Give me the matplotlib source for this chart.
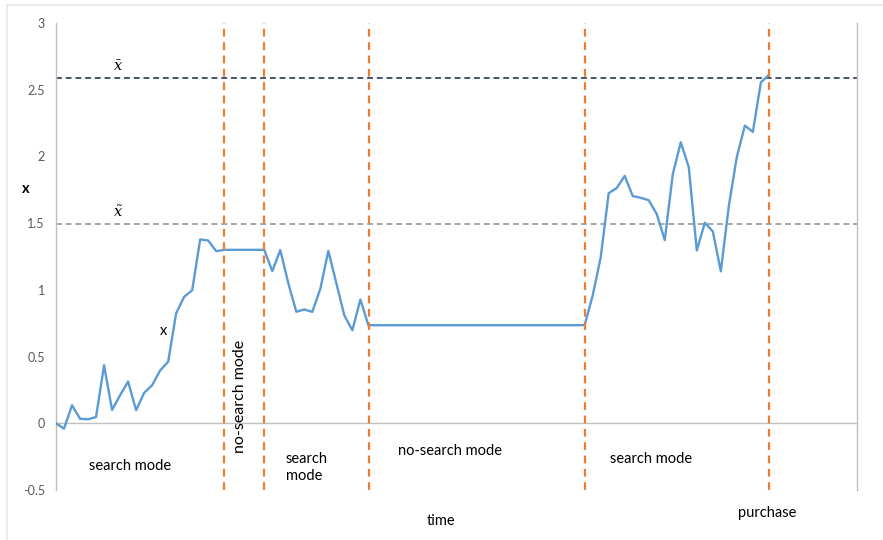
import numpy as np
import matplotlib
matplotlib.use("Agg")
import matplotlib.pyplot as plt
from matplotlib.lines import Line2D

plt.rcParams['font.family'] = ['Lato', 'DejaVu Sans']
plt.rcParams['mathtext.fontset'] = 'dejavuserif'

# x(t) path, one value per time step
x_values = [0.0, -0.04, 0.135, 0.034, 0.03, 0.047, 0.435, 0.10, 0.21, 0.313,
            0.098, 0.228, 0.285, 0.396, 0.461, 0.824, 0.948, 0.997, 1.378, 1.370,
            1.29, 1.30, 1.30, 1.30, 1.30, 1.30, 1.30, 1.14, 1.298, 1.05,
            0.836, 0.853, 0.835, 1.008, 1.292, 1.05, 0.808, 0.697, 0.928, 0.735,
            0.735, 0.735, 0.735, 0.735, 0.735, 0.735, 0.735, 0.735, 0.735, 0.735,
            0.735, 0.735, 0.735, 0.735, 0.735, 0.735, 0.735, 0.735, 0.735, 0.735,
            0.735, 0.735, 0.735, 0.735, 0.735, 0.735, 0.736, 0.957, 1.243, 1.724,
            1.763, 1.854, 1.703, 1.69, 1.672, 1.568, 1.373, 1.867, 2.106, 1.919,
            1.295, 1.503, 1.438, 1.139, 1.63, 1.997, 2.231, 2.184, 2.555, 2.61]
x_bar = 2.59
x_tilde = 1.49
mode_switches = [21, 26, 39.1, 66, 89]
y_ticks = [-0.5, 0, 0.5, 1, 1.5, 2, 2.5, 3]
y_ticklabels = ['-0.5', '0', '0.5', '1', '1.5', '2', '2.5', '3']

fig = plt.figure(figsize=(8.83, 5.4), dpi=100)
ax = fig.add_axes([56/883, 1-490/540, (857-56)/883, (490-23)/540])

t = np.arange(len(x_values))
ax.plot(t, x_values, color='#5B9BD5', lw=1.7, zorder=3)

ax.axhline(x_bar, color='#44546A', lw=1.4, ls=(0, (3, 2)), zorder=2)
ax.axhline(x_tilde, color='#A5A5A5', lw=1.4, ls=(0, (3, 2)), zorder=2)
ax.axhline(0, color='#BFBFBF', lw=1.0, zorder=1)
for s in mode_switches:
    ax.axvline(s, color='#ED7D31', lw=1.6, ls=(0, (3.5, 2.5)), zorder=4)

ax.set_xlim(0, 100)
ax.set_ylim(-0.5, 3)
ax.set_yticks(y_ticks)
ax.set_yticklabels(y_ticklabels)
ax.set_xticks([])
ax.tick_params(axis='y', length=0, pad=8, labelsize=9, labelcolor='#595959')
for side in ['top', 'bottom']:
    ax.spines[side].set_visible(False)
for side in ['left', 'right']:
    ax.spines[side].set_color('#BFBFBF')
    ax.spines[side].set_linewidth(1.0)

# annotations
ax.text(7.8, x_bar + 0.03, r'$\bar{x}$', ha='center', va='bottom', fontsize=10.5)
ax.text(7.8, x_tilde + 0.03, r'$\tilde{x}$', ha='center', va='bottom', fontsize=10.5)
ax.text(13.4, 0.69, 'x', ha='center', va='center', fontsize=10.5,
        bbox=dict(facecolor='white', edgecolor='none', pad=0.6), zorder=5)
ax.text(9.3, -0.32, 'search mode', ha='center', va='center', fontsize=10.5)
ax.text(23.0, 0.2, 'no-search mode', ha='center', va='center', fontsize=11.5, rotation=90)
ax.text(28.7, -0.33, 'search\nmode', ha='left', va='center', fontsize=10.5, linespacing=1.3)
ax.text(49.2, -0.21, 'no-search mode', ha='center', va='center', fontsize=10.5)
ax.text(74.3, -0.27, 'search mode', ha='center', va='center', fontsize=10.5)

fig.text(26/883, 1-189/540, 'x', ha='center', va='center', fontsize=10.5, fontweight='bold')
fig.text(441/883, 1-521/540, 'time', ha='center', va='center', fontsize=10.5)
fig.text(767/883, 1-513/540, 'purchase', ha='center', va='center', fontsize=10.5)

# chart area border fragments
fig.add_artist(Line2D([7/883, 1], [1-5/540, 1-5/540], color='#E6E6E6', lw=1.2))
fig.add_artist(Line2D([7/883, 7/883], [0, 1-5/540], color='#E6E6E6', lw=1.2))

fig.savefig('out.png', dpi=100)
